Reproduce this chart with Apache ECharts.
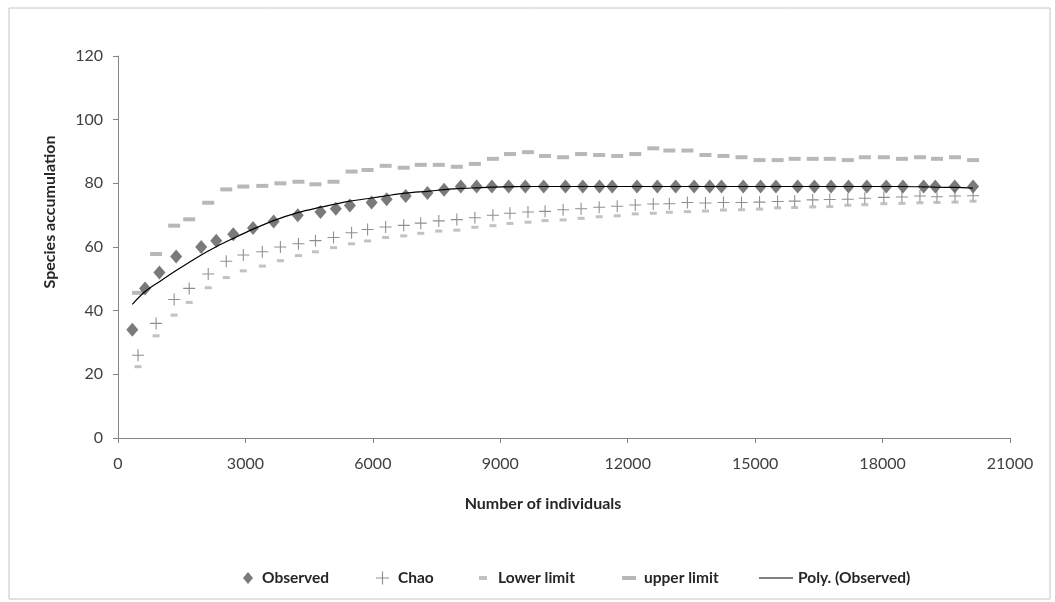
<!DOCTYPE html>
<html>
<head>
<meta charset="utf-8">
<script src="https://cdn.jsdelivr.net/npm/echarts@6/dist/echarts.min.js"></script>
<style>
  html, body { margin: 0; padding: 0; background: #fff; }
  #chart { width: 1055px; height: 602px; }
</style>
</head>
<body>
<div id="chart"></div>
<script>
// Number of individuals at each observed sampling step
const observedX = [337, 637, 975, 1369, 1959, 2313, 2714, 3179, 3665, 4232, 4767, 5128, 5459, 5971, 6325, 6773,
  7285, 7677, 8071, 8442, 8803, 9197, 9589, 10023, 10533, 10943, 11335, 11635, 12218, 12697, 13129, 13563,
  13931, 14207, 14719, 15128, 15489, 16001, 16395, 16787, 17198, 17630, 18086, 18480, 18967, 19241, 19699, 20131];
// Observed species count
const observedY = [34, 47, 52, 57, 60, 62, 64, 66, 68, 70, 71, 72, 73, 74, 75, 76,
  77, 78, 79, 79, 79, 79, 79, 79, 79, 79, 79, 79, 79, 79, 79, 79,
  79, 79, 79, 79, 79, 79, 79, 79, 79, 79, 79, 79, 79, 79, 79, 79];
// Polynomial trend of the observed curve
const polyY = [42.0, 46.0, 49.1, 52.6, 57.5, 60.1, 62.7, 65.6, 68.3, 70.8, 72.5, 73.5, 74.4, 75.4, 76.1, 76.9,
  77.5, 78.0, 78.4, 78.6, 78.8, 78.9, 79.0, 79.0, 79.0, 79.0, 79.0, 79.0, 79.0, 79.0, 79.0, 79.0,
  79.0, 79.0, 79.0, 79.0, 79.0, 79.0, 79.0, 79.0, 79.0, 79.0, 79.0, 79.0, 78.9, 78.8, 78.7, 78.5];

// Number of individuals for the Chao estimator and its confidence limits
const chaoX = [472, 897, 1322, 1676, 2124, 2549, 2950, 3398, 3823, 4248, 4649, 5074, 5499, 5876, 6301, 6726,
  7127, 7552, 7977, 8402, 8826, 9228, 9652, 10054, 10479, 10903, 11328, 11753, 12178, 12602, 12980, 13405,
  13830, 14254, 14679, 15104, 15529, 15930, 16355, 16756, 17181, 17582, 18030, 18455, 18880, 19281, 19706, 20131];
const chaoY = [26, 36, 43.5, 47, 51.5, 55.5, 57.5, 58.5, 60, 61, 62, 63, 64.5, 65.5, 66.3, 66.8,
  67.5, 68.2, 68.6, 69.2, 70, 70.6, 71, 71.2, 71.7, 72, 72.5, 72.8, 73.2, 73.5, 73.6, 74,
  73.8, 74, 74, 74.1, 74.3, 74.4, 74.8, 74.9, 75, 75.3, 75.6, 75.7, 76, 75.8, 76, 76.1];
const lowerY = [22.4, 32.1, 38.6, 42.6, 47.2, 50.4, 52.5, 54.0, 55.7, 57.3, 58.5, 59.8, 61.0, 61.9, 63, 63.5,
  64.3, 65, 65.3, 66.2, 66.7, 67.4, 67.8, 68.3, 68.5, 69, 69.5, 69.8, 70.4, 70.6, 70.9, 71.1,
  71.3, 71.6, 71.7, 71.9, 72.3, 72.4, 72.6, 72.7, 73.1, 73.3, 73.6, 73.7, 73.9, 74, 74.1, 74.4];
const upperY = [45.6, 57.8, 66.7, 68.7, 73.9, 78.1, 79.0, 79.2, 80.0, 80.5, 79.7, 80.5, 83.7, 84.2, 85.5, 84.9,
  85.8, 85.8, 85.2, 86.1, 87.7, 89.2, 89.8, 88.6, 88.2, 89.2, 88.9, 88.6, 89.2, 91.0, 90.3, 90.3,
  88.9, 88.6, 88.2, 87.3, 87.3, 87.7, 87.7, 87.7, 87.3, 88.2, 88.2, 87.7, 88.2, 87.7, 88.2, 87.3];

const seriesNames = ['Observed', 'Chao', 'Lower limit', 'upper limit', 'Poly. (Observed)'];

const pairs = (xs, ys) => xs.map((x, i) => [x, ys[i]]);

const FONT = 'Lato, "Open Sans", sans-serif';
const PLUS = 'path://M4.55,0 H5.45 V4.55 H10 V5.45 H5.45 V10 H4.55 V5.45 H0 V4.55 H4.55 Z';
const TITLE_STYLE = { fontFamily: FONT, fontSize: 16, fontWeight: 'bold', color: '#262626' };
const LEGEND_STYLE = { fontFamily: FONT, fontSize: 15.5, fontWeight: 'bold', color: '#262626' };
const TICK_STYLE = { fontFamily: FONT, fontSize: 16, color: '#404040' };

const chart = echarts.init(document.getElementById('chart'), null, { renderer: 'canvas' });

// one legend block per entry so each sits where it belongs on the baseline row
function legendItem(name, left, icon, w, h, textGap, top) {
  return {
    left: left,
    top: top,
    itemWidth: w,
    itemHeight: h,
    selectedMode: false,
    data: [{ name: name, icon: icon }],
    textStyle: Object.assign({}, LEGEND_STYLE, { padding: [0, 0, 0, textGap] })
  };
}

chart.setOption({
  backgroundColor: '#fff',
  animation: false,
  graphic: [{
    type: 'rect',
    shape: { x: 9, y: 8, width: 1041, height: 591 },
    style: { fill: 'none', stroke: '#c4c4c4', lineWidth: 1 },
    silent: true
  }],
  grid: { left: 118, right: 45, top: 56, bottom: 164, containLabel: false },
  xAxis: {
    type: 'value',
    min: 0, max: 21000, interval: 3000,
    name: 'Number of individuals',
    nameLocation: 'middle',
    nameGap: 58,
    nameTextStyle: Object.assign({}, TITLE_STYLE, { padding: [0, 42, 0, 0] }),
    axisLine: { lineStyle: { color: '#868686', width: 1 } },
    axisTick: { show: true, length: 5, lineStyle: { color: '#868686' } },
    axisLabel: Object.assign({ margin: 18, formatter: v => String(v) }, TICK_STYLE),
    splitLine: { show: false }
  },
  yAxis: {
    type: 'value',
    min: 0, max: 120, interval: 20,
    name: 'Species accumulation',
    nameLocation: 'middle',
    nameGap: 60,
    nameRotate: 90,
    nameTextStyle: Object.assign({}, TITLE_STYLE, { padding: [0, 0, 0, 70] }),
    axisLine: { show: true, lineStyle: { color: '#868686', width: 1 } },
    axisTick: { show: true, length: 5, lineStyle: { color: '#868686' } },
    axisLabel: Object.assign({ margin: 15 }, TICK_STYLE),
    splitLine: { show: false }
  },
  legend: [
    legendItem(seriesNames[0], 238, 'diamond', 10, 12, 4, 565),
    legendItem(seriesNames[1], 371, PLUS, 13, 13, 4, 565),
    legendItem(seriesNames[2], 474, 'rect', 8, 4, 6, 565),
    legendItem(seriesNames[3], 617, 'rect', 14, 4, 3, 565),
    legendItem(seriesNames[4], 754, 'rect', 34, 1.2, 0, 565)
  ],
  series: [
    {
      name: seriesNames[0], type: 'scatter',
      data: pairs(observedX, observedY),
      symbol: 'diamond', symbolSize: [12, 14],
      itemStyle: { color: '#595959' }, z: 3
    },
    {
      name: seriesNames[1], type: 'scatter',
      data: pairs(chaoX, chaoY),
      symbol: PLUS, symbolSize: 12,
      itemStyle: { color: '#737373' }, z: 2
    },
    {
      name: seriesNames[2], type: 'scatter',
      data: pairs(chaoX, lowerY),
      symbol: 'rect', symbolSize: [7, 3],
      itemStyle: { color: '#b3b3b3' }, z: 2
    },
    {
      name: seriesNames[3], type: 'scatter',
      data: pairs(chaoX, upperY),
      symbol: 'rect', symbolSize: [12, 4],
      itemStyle: { color: '#a6a6a6' }, z: 2
    },
    {
      name: seriesNames[4], type: 'line',
      data: pairs(observedX, polyY),
      smooth: 0.3, symbol: 'none', showSymbol: false,
      lineStyle: { color: '#000', width: 1.2 },
      itemStyle: { color: '#000' }, z: 4
    }
  ]
});
</script>
</body>
</html>
